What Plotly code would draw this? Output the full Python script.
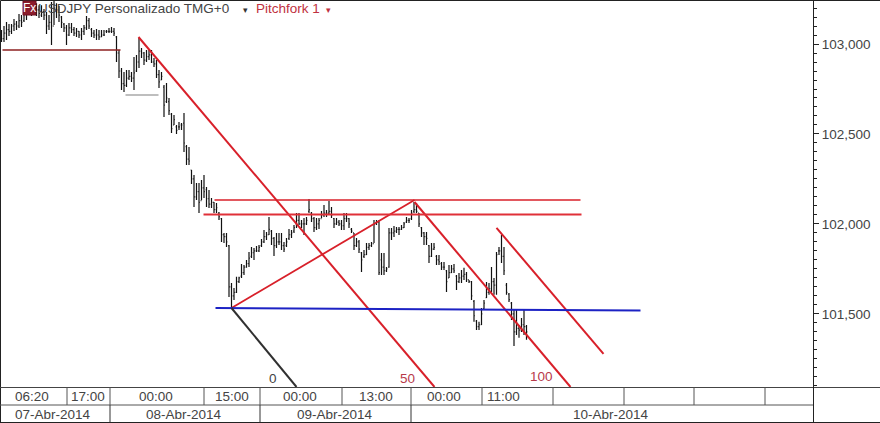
import plotly.graph_objects as go

high = [103.078,103.100,103.122,103.111,103.111,103.139,103.128,103.167,103.161,103.216,103.227,103.238,103.233,103.244,103.227,103.216,103.216,103.194,103.178,103.161,103.233,103.244,103.227,103.211,103.156,103.117,103.106,103.117,103.117,103.094,103.089,103.072,103.089,103.106,103.156,103.144,103.089,103.078,103.083,103.078,103.078,103.078,103.078,103.089,103.094,103.089,103.044,102.967,
102.867,102.844,102.856,102.856,102.844,102.928,102.939,103.033,102.978,102.956,102.967,102.967,102.967,102.922,102.911,102.856,102.844,102.772,102.783,102.700,102.617,102.606,102.550,102.567,102.561,102.617,
102.439,102.428,102.300,102.272,102.228,102.228,102.244,102.272,102.206,102.189,102.144,102.122,102.117,102.067,102.033,101.950,101.950,101.883,101.672,101.644,101.706,101.706,
101.778,101.772,101.800,101.844,101.872,101.867,101.878,101.883,101.917,101.967,101.956,102.039,101.967,101.928,101.950,101.950,101.950,101.900,101.922,101.972,101.967,101.994,102.061,102.061,102.022,102.033,102.039,102.139,102.067,102.039,102.033,102.033,102.072,102.106,102.078,102.128,102.094,102.033,102.033,102.022,102.022,102.061,102.061,102.033,101.978,101.950,101.922,101.911,101.844,101.856,101.894,101.894,101.900,102.022,102.022,102.022,101.839,101.839,101.761,101.978,101.978,101.989,101.983,101.983,101.994,102.011,102.039,102.033,102.078,102.122,102.117,102.061,101.983,101.956,101.956,101.883,101.894,101.894,101.828,101.828,101.789,101.789,101.744,101.772,101.772,101.778,101.717,101.728,101.744,101.756,101.733,101.689,101.683,101.578,101.467,101.456,101.533,101.578,101.678,101.672,101.761,101.700,101.844,101.872,101.939,101.872,101.672,101.617,101.567,101.522,101.522,101.439,101.478,101.522,101.439]

low = [103.011,103.011,103.022,103.044,103.056,103.072,103.078,103.089,103.094,103.122,103.133,103.161,103.156,103.167,103.156,103.144,103.150,103.133,103.056,103.078,102.994,103.106,103.144,103.122,103.089,103.067,102.994,103.044,103.061,103.044,103.039,103.033,103.022,103.050,103.078,103.083,103.039,103.033,103.022,103.022,103.039,103.044,103.061,103.061,103.061,103.044,102.900,102.811,
102.744,102.733,102.761,102.800,102.789,102.744,102.844,102.867,102.922,102.883,102.900,102.911,102.894,102.872,102.811,102.756,102.800,102.594,102.672,102.606,102.506,102.550,102.500,102.522,102.522,102.400,
102.328,102.328,102.222,102.094,102.133,102.061,102.133,102.144,102.094,102.089,102.089,102.061,102.061,102.022,101.900,101.894,101.872,101.594,101.533,101.578,101.617,101.672,
101.700,101.717,101.756,101.761,101.811,101.800,101.844,101.844,101.872,101.894,101.911,101.939,101.883,101.822,101.867,101.883,101.856,101.844,101.872,101.911,101.922,101.950,101.978,101.994,101.978,101.939,101.994,102.061,102.011,101.956,101.967,101.972,102.033,102.039,102.039,102.050,102.033,101.978,101.994,101.989,101.967,101.967,102.011,101.978,101.950,101.856,101.872,101.839,101.733,101.811,101.828,101.856,101.872,101.894,101.994,101.717,101.717,101.717,101.733,101.756,101.911,101.928,101.950,101.939,101.967,101.978,102.006,102.006,102.022,102.061,102.061,101.983,101.928,101.883,101.883,101.783,101.817,101.856,101.772,101.772,101.744,101.744,101.622,101.700,101.728,101.728,101.633,101.672,101.672,101.689,101.678,101.672,101.578,101.456,101.411,101.411,101.439,101.522,101.589,101.606,101.622,101.606,101.606,101.828,101.783,101.717,101.606,101.567,101.467,101.322,101.383,101.367,101.400,101.383,101.356]

close = [103.03,103.06,103.08,103.07,103.10,103.11,103.10,103.13,103.12,103.17,103.18,103.20,103.18,103.21,103.19,103.17,103.18,103.16,103.10,103.12,103.10,103.20,103.19,103.16,103.12,103.09,103.05,103.09,103.08,103.06,103.07,103.05,103.07,103.09,103.13,103.10,103.06,103.05,103.05,103.04,103.05,103.05,103.07,103.07,103.07,103.06,102.95,102.85,
102.78,102.77,102.81,102.82,102.81,102.84,102.90,102.96,102.95,102.91,102.93,102.94,102.90,102.89,102.83,102.79,102.82,102.66,102.70,102.63,102.53,102.58,102.52,102.54,102.55,102.45,
102.36,102.35,102.25,102.15,102.18,102.12,102.20,102.18,102.14,102.11,102.12,102.08,102.09,102.04,101.94,101.93,101.90,101.65,101.60,101.62,101.68,101.70,
101.73,101.76,101.78,101.81,101.84,101.85,101.85,101.87,101.90,101.93,101.94,101.97,101.92,101.88,101.90,101.90,101.88,101.86,101.90,101.94,101.95,101.98,102.02,102.00,102.00,102.00,102.02,102.08,102.03,101.98,102.00,102.02,102.05,102.06,102.06,102.07,102.05,102.00,102.01,102.00,101.99,102.03,102.03,102.00,101.96,101.88,101.90,101.86,101.80,101.83,101.87,101.88,101.89,102.00,102.01,101.73,101.76,101.74,101.75,101.95,101.95,101.96,101.97,101.97,101.98,102.00,102.02,102.02,102.06,102.08,102.07,102.00,101.95,101.93,101.92,101.82,101.86,101.87,101.80,101.79,101.76,101.76,101.68,101.73,101.75,101.74,101.68,101.70,101.71,101.72,101.69,101.68,101.60,101.49,101.43,101.44,101.50,101.56,101.62,101.64,101.68,101.66,101.83,101.85,101.82,101.74,101.62,101.58,101.50,101.40,101.42,101.41,101.44,101.43,101.40]

open_ = [103.06,103.03,103.06,103.08,103.07,103.10,103.11,103.10,103.13,103.13,103.17,103.18,103.20,103.18,103.21,103.19,103.16,103.18,103.16,103.10,103.12,103.10,103.20,103.19,103.15,103.11,103.09,103.05,103.09,103.08,103.06,103.07,103.05,103.07,103.09,103.13,103.08,103.06,103.05,103.05,103.04,103.05,103.07,103.07,103.07,103.07,103.04,102.95,
102.85,102.78,102.77,102.81,102.82,102.81,102.85,102.90,102.96,102.95,102.91,102.93,102.94,102.90,102.89,102.83,102.80,102.76,102.68,102.68,102.61,102.55,102.54,102.54,102.55,102.56,
102.43,102.36,102.30,102.25,102.15,102.18,102.13,102.20,102.19,102.14,102.11,102.12,102.08,102.06,102.03,101.94,101.93,101.88,101.65,101.60,101.62,101.68,
101.71,101.73,101.76,101.78,101.82,101.84,101.85,101.85,101.88,101.90,101.93,101.94,101.96,101.92,101.88,101.90,101.90,101.88,101.88,101.92,101.94,101.96,102.00,102.02,102.00,102.00,102.00,102.07,102.06,102.03,101.98,102.00,102.03,102.05,102.06,102.06,102.07,102.03,102.00,102.01,102.00,101.99,102.03,102.03,101.97,101.95,101.88,101.90,101.84,101.82,101.83,101.87,101.88,101.89,102.00,102.01,101.80,101.76,101.74,101.76,101.95,101.95,101.96,101.97,101.97,101.98,102.01,102.02,102.03,102.07,102.08,102.06,101.98,101.95,101.93,101.88,101.82,101.86,101.82,101.80,101.78,101.76,101.74,101.70,101.73,101.75,101.71,101.68,101.70,101.71,101.72,101.69,101.68,101.57,101.46,101.43,101.44,101.53,101.59,101.62,101.64,101.68,101.66,101.85,101.85,101.82,101.66,101.61,101.56,101.50,101.40,101.42,101.41,101.44,101.43]

assert len(high) == len(low) == len(close) == len(open_), (len(high), len(low), len(close), len(open_))
bars = list(range(len(high)))

# Drawing-tool lines, as (bar number, price) pairs
RED = "#d8202a"
drawn = [
    ([54.8, 173.2], [103.039, 101.094], RED, 2),
    ([165.2, 227.6], [102.122, 101.094], RED, 2),
    ([198.0, 240.8], [101.978, 101.278], RED, 2),
    ([92.0, 165.2], [101.533, 102.133], RED, 1.8),
    ([85.2, 231.6], [102.133, 102.133], RED, 1.6),
    ([80.8, 232.0], [102.053, 102.053], "#e03038", 2),
    ([85.6, 255.6], [101.533, 101.519], "#1c22c4", 2),
    ([92.0, 118.0], [101.533, 101.094], "#303030", 2),
    ([0.4, 47.6], [102.967, 102.967], "#8c2020", 1.6),
    ([49.6, 62.8], [102.717, 102.717], "#a8a8a8", 1.6),
]

y_ticks = [101.5, 102.0, 102.5, 103.0]
y_labels = ["101,500", "102,000", "102,500", "103,000"]
time_labels = ["06:20", "17:00", "00:00", "15:00", "00:00", "13:00", "00:00", "11:00"]
date_labels = ["07-Abr-2014", "08-Abr-2014", "09-Abr-2014", "10-Abr-2014"]

W, H = 880, 423
L, T, R, B = 1, 1, 813, 387


def px(x):
    return (x - L) / (R - L)


def py(y):
    return (B - y) / (B - T)


fig = go.Figure()
fig.add_trace(go.Ohlc(
    x=bars, open=open_, high=high, low=low, close=close,
    increasing=dict(line=dict(color="#111111", width=1.2)),
    decreasing=dict(line=dict(color="#111111", width=1.2)),
    tickwidth=0.35, showlegend=False, hoverinfo="skip",
))
for xs, ys, col, w in drawn:
    fig.add_trace(go.Scatter(x=xs, y=ys, mode="lines", line=dict(color=col, width=w),
                             showlegend=False, hoverinfo="skip"))

shapes = []


def line(x0, y0, x1, y1, col="#222222", w=1):
    shapes.append(dict(type="line", xref="paper", yref="paper", x0=px(x0), y0=py(y0),
                       x1=px(x1), y1=py(y1), line=dict(color=col, width=w), layer="above"))


line(0.5, 0.5, 880, 0.5)
line(0.5, 0.5, 0.5, 422.5)
line(0, 387.5, 880, 387.5, "#444444")
line(0, 405, 813, 405, "#555555")
line(0, 422.5, 880, 422.5)
line(813.5, 0, 813.5, 423)
for xv in [67, 110, 204, 260, 342, 411, 482, 553, 624, 694, 765]:
    line(xv, 387.5, xv, 405, "#555555")
for xv in [110, 260, 411]:
    line(xv, 405, xv, 422.5, "#333333")
shapes.append(dict(type="rect", xref="paper", yref="paper", x0=px(23), x1=px(36), y0=py(1), y1=py(15),
                   fillcolor="#8c1c2c", line=dict(color="#701020", width=1), layer="above"))

ann = []
FONT = "Liberation Sans, Arial, sans-serif"


def text(x, y, s, size=13.5, col="#444444", anchor="center"):
    ann.append(dict(xref="paper", yref="paper", x=px(x), y=py(y), text=s, showarrow=False,
                    xanchor=anchor, yanchor="middle", font=dict(family=FONT, size=size, color=col)))


for xv, s in zip([32, 88, 156, 232, 300, 376, 444, 503], time_labels):
    text(xv, 396.5, s)
for xv, s in zip([53, 184, 335, 611], date_labels):
    text(xv, 414, s)
text(273, 378, "0", 13.5, "#444444")
text(407, 378, "50", 13.5, "#b83a4a")
text(541, 376, "100", 13.5, "#b83a4a")
text(29.5, 8.5, "Fx", 12, "#ffffff")
text(36, 9, "USDJPY Personalizado TMG+0", 13.5, "#444444", "left")
text(245, 10, "▾", 9, "#333333")
text(254, 9, "Pitchfork 1", 13.5, "#c03040", "left")
text(328, 10, "▾", 9, "#c03040")

fig.update_layout(
    width=W, height=H, autosize=False,
    margin=dict(l=L, r=W - R, t=T, b=H - B, pad=0),
    paper_bgcolor="white", plot_bgcolor="white",
    shapes=shapes, annotations=ann,
    font=dict(family=FONT, size=13, color="#444444"),
    xaxis=dict(range=[-0.2, 324.6], showgrid=False, zeroline=False, showticklabels=False,
               ticks="", rangeslider=dict(visible=False), showline=False, fixedrange=True),
    yaxis=dict(side="right", range=[101.094, 103.239], showgrid=False, zeroline=False,
               tickvals=y_ticks, ticktext=y_labels, ticks="outside", ticklen=5, tickcolor="#222222",
               showline=False, ticklabelstandoff=0, fixedrange=True,
               tickfont=dict(family=FONT, size=13.5, color="#444444"),
               minor=dict(dtick=0.05, ticks="outside", ticklen=3, tickcolor="#222222", showgrid=False)),
)
fig.write_html("out.html", config=dict(displayModeBar=False),
               post_script="document.body.style.margin='0';document.documentElement.style.overflow='hidden';")
